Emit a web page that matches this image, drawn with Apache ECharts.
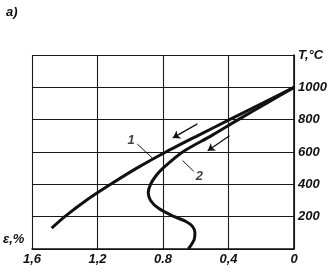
<!DOCTYPE html>
<html><head><meta charset="utf-8">
<script src="https://cdn.jsdelivr.net/npm/echarts@6/dist/echarts.min.js"></script>
<style>html,body{margin:0;padding:0;background:#fff}#c{width:334px;height:279px}</style>
</head><body><div id="c"></div>
<script>
// data: [strain ε %, temperature °C]
const curve1 = [[0,1000],[0.197,900],[0.394,800],[0.59,700],[0.783,600],[0.96,500],[1.12,400],[1.27,300],[1.40,200],[1.48,129]];
const curve2 = [[0,1000],[0.17,900],[0.34,800],[0.506,700],[0.68,600],[0.80,500],[0.845,450],[0.876,400],[0.89,350],[0.876,300],[0.825,250],[0.73,200],[0.66,170],[0.62,140],[0.605,100],[0.61,57],[0.645,0]];
const xTicks = [0,0.4,0.8,1.2,1.6];
const xTickLabels = ['0','0,4','0.8','1,2','1,6'];
const yTicks = [0,200,400,600,800,1000,1200];
const yTickLabels = ['','200','400','600','800','1000','T,°C'];
const arrows = [[[0.59,774],[0.74,687]],[[0.394,700],[0.527,608]]];
const leaders = [[[0.957,649],[0.865,563]],[[0.68,547],[0.613,481]]];
const curveLabels = [[0.995,670,'1'],[0.578,452,'2']];

const FF = '"Liberation Sans", Arial, sans-serif';
const font = {fontFamily:FF, fontStyle:'italic', fontWeight:'bold', fontSize:13, color:'#111'};
const chart = echarts.init(document.getElementById('c'), null, {renderer:'canvas'});
chart.setOption({
  animation:false,
  grid:{left:32,right:40,top:55,bottom:30},
  xAxis:{type:'value',inverse:true,min:0,max:1.6,interval:0.4,
    axisLine:{lineStyle:{color:'#111',width:1.6}},axisTick:{show:false},
    splitLine:{lineStyle:{color:'#1a1a1a',width:1.1}},
    axisLabel:Object.assign({margin:4,formatter:v=>{const i=xTicks.findIndex(t=>Math.abs(t-v)<1e-6);return i>=0?xTickLabels[i]:'';}},font)},
  yAxis:{type:'value',position:'right',min:0,max:1200,interval:200,
    axisLine:{show:true,lineStyle:{color:'#111',width:1.6}},axisTick:{show:false},
    splitLine:{lineStyle:{color:'#1a1a1a',width:1.1}},
    axisLabel:Object.assign({margin:4,formatter:v=>{const i=yTicks.indexOf(v);return i>=0?yTickLabels[i]:'';}},font)},
  graphic:[
    {type:'text',left:6,top:6,style:{text:'a)',fill:'#111',font:'italic bold 13px '+FF}},
    {type:'text',left:3,top:233,style:{text:'ε,%',fill:'#111',font:'italic bold 13px '+FF}}
  ],
  series:[
    {type:'line',data:curve1,smooth:0.2,symbol:'none',lineStyle:{color:'#111',width:3},
      markLine:{silent:true,symbol:['none','arrow'],symbolSize:7,label:{show:false},
        lineStyle:{color:'#111',width:1.3,type:'solid'},
        data:arrows.map(a=>[{coord:a[0]},{coord:a[1]}])}},
    {type:'line',data:curve2,smooth:0.3,symbol:'none',lineStyle:{color:'#111',width:3},
      markLine:{silent:true,symbol:['none','none'],label:{show:false},
        lineStyle:{color:'#111',width:1,type:'solid'},
        data:leaders.map(a=>[{coord:a[0]},{coord:a[1]}])}},
    {type:'scatter',data:curveLabels,symbolSize:0,
      label:Object.assign({show:true,position:'inside',formatter:p=>p.data[2]},font)}
  ]
});
</script></body></html>
